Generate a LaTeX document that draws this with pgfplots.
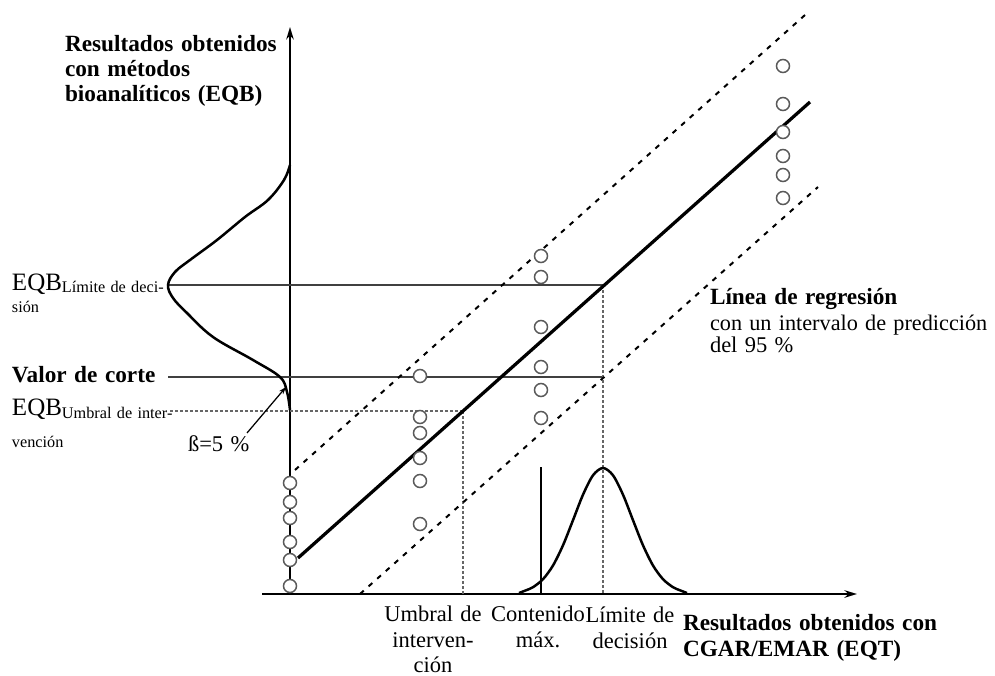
\documentclass[border=0pt]{standalone}
\usepackage{fontspec}
\setmainfont{Liberation Serif}[WordSpace=1.3]
\usepackage{pgfplots}
\pgfplotsset{compat=1.18}
\usetikzlibrary{arrows.meta}
\newcommand\fs{\fontsize{9}{11}\selectfont}
\newcommand\fbb{\fontsize{9.3}{11}\selectfont\bfseries}
\newcommand\fb{\fontsize{10}{12}\selectfont}
\newcommand\fss{\fontsize{6.5}{8}\selectfont}
\tikzset{lbl/.style={inner sep=0pt, outer sep=0pt}}
\begin{document}
\begin{tikzpicture}
\begin{axis}[
  scale only axis, width=398pt, height=270pt,
  xmin=0, xmax=995, ymin=0, ymax=675,
  hide axis, clip=false,
]
% axes
\addplot[black, line width=1pt, -{Stealth[length=5pt,width=3pt]}] coordinates {(262,81) (857,81)};
\addplot[black, line width=0.8pt, -{Stealth[length=5pt,width=3pt]}] coordinates {(290,81) (290,648)};
% horizontal reference lines
\addplot[black!75, line width=0.45pt] coordinates {(168,390) (603,390)};
\addplot[black!75, line width=0.45pt] coordinates {(168,298) (603,298)};
\addplot[black!60, line width=1pt, densely dotted] coordinates {(170,264) (463,264)};
% vertical reference lines
\addplot[black!60, line width=1pt, densely dotted] coordinates {(463,264) (463,81)};
\addplot[black!60, line width=1pt, densely dotted] coordinates {(603,390) (603,81)};
\addplot[black, line width=1.1pt] coordinates {(541,208) (541,81)};
% left distribution
\addplot[black, line width=1pt, smooth, tension=0.6] coordinates {
(290,510) (284,495) (268,475) (245,458) (217,435) (190,415) (175,403) (168,390)
(173,377) (187,362) (213,338) (253,315) (280,298) (287,283) (290,265)};
% bottom distribution
\addplot[black, line width=1pt, smooth] coordinates {
(519,82) (526,84.7) (533,87.8) (543,95.8) (553,109.5) (563,129.7) (573,154.8) (583,180.3)
(593,199.7) (603,207) (613,199.7) (623,180.3) (633,154.8) (643,129.7) (653,109.5)
(663,95.8) (673,87.8) (680,84.7) (687,82)};
% regression line and prediction interval
\addplot[black, line width=1.3pt] coordinates {(298,117) (810,573)};
\addplot[black, line width=0.8pt, dash pattern=on 2pt off 2.6pt] coordinates {(295,205) (805,660)};
\addplot[black, line width=0.8pt, dash pattern=on 2pt off 2.6pt] coordinates {(360,81) (818,488)};
% beta arrow
\addplot[black, line width=0.5pt, -{Stealth[length=3pt,width=2pt]}] coordinates {(247,242) (286,288)};
% data points
\addplot[only marks, mark=*, mark size=2.6pt, mark options={fill=white, draw=black!65, line width=0.6pt}] coordinates {
(290,192) (290,173) (290,157) (290,133) (290,115) (290,89)
(420,299) (420,258) (420,242) (420,217) (420,194) (420,151)
(541,419) (541,398) (541,348) (541,308) (541,285) (541,257)
(783,609) (783,571) (783,543) (783,519) (783,500) (783,477)};
% texts
\node[lbl, anchor=base west, font=\fbb] at (65,623) {Resultados obtenidos};
\node[lbl, anchor=base west, font=\fbb] at (65,598) {con métodos};
\node[lbl, anchor=base west, font=\fbb] at (65,573) {bioanalíticos (EQB)};
\node[lbl, anchor=base west, font=\fb] at (12,385) {EQB\raisebox{-1pt}{\fss Límite de deci-}};
\node[lbl, anchor=base west, font=\fss] at (12,362) {sión};
\node[lbl, anchor=base west, font=\fbb] at (12,293) {Valor de corte};
\node[lbl, anchor=base west, font=\fb] at (12,260) {EQB\raisebox{-1.5pt}{\fss Umbral de inter-}};
\node[lbl, anchor=base west, font=\fss] at (12,227) {vención};
\node[lbl, anchor=base west, font=\fs] at (188,223) {ß=5 \%};
\node[lbl, anchor=base west, font=\fbb] at (710,370) {Línea de regresión};
\node[lbl, anchor=base west, font=\fontsize{8.9}{11}\selectfont] at (710,345) {con un intervalo de predicción};
\node[lbl, anchor=base west, font=\fs] at (710,322) {del 95 \%};
\node[lbl, anchor=base, font=\fs] at (433,54) {Umbral de};
\node[lbl, anchor=base, font=\fs] at (433,28) {interven-};
\node[lbl, anchor=base, font=\fs] at (433,3) {ción};
\node[lbl, anchor=base, font=\fs] at (538,54) {Contenido};
\node[lbl, anchor=base, font=\fs] at (538,28) {máx.};
\node[lbl, anchor=base, font=\fs] at (630,53) {Límite de};
\node[lbl, anchor=base, font=\fs] at (630,27) {decisión};
\node[lbl, anchor=base west, font=\fbb] at (683,45) {Resultados obtenidos con};
\node[lbl, anchor=base west, font=\fbb] at (683,19) {CGAR/EMAR (EQT)};
\end{axis}
\pgfresetboundingbox
\useasboundingbox (current axis.south west) rectangle (current axis.north east);
\end{tikzpicture}
\end{document}
